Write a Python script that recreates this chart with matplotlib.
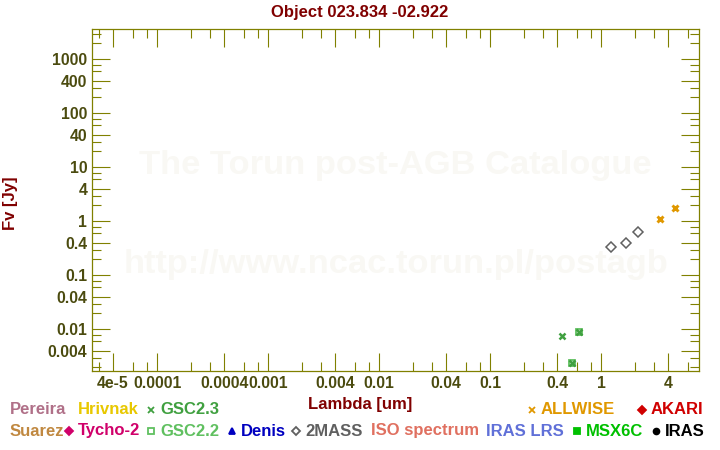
import matplotlib
matplotlib.use("Agg")
import matplotlib.pyplot as plt
from matplotlib.lines import Line2D

# photometry (wavelength in um, flux in Jy)
gsc23_wl = [0.445, 0.548, 0.634]
gsc23_flux = [0.0074, 0.00235, 0.0088]
gsc22_wl = [0.548, 0.634]
gsc22_flux = [0.00235, 0.0088]
twomass_wl = [1.235, 1.662, 2.159]
twomass_flux = [0.33, 0.39, 0.625]
allwise_wl = [3.35, 4.6]
allwise_flux = [1.09, 1.74]

x_major = [4e-5, 1e-4, 4e-4, 1e-3, 4e-3, 1e-2, 4e-2, 0.1, 0.4, 1, 4]
x_labels = ["4e-5", "0.0001", "0.0004", "0.001", "0.004", "0.01", "0.04",
            "0.1", "0.4", "1", "4"]
y_major = [0.004, 0.01, 0.04, 0.1, 0.4, 1, 4, 10, 40, 100, 400, 1000]
y_labels = ["0.004", "0.01", "0.04", "0.1", "0.4", "1", "4", "10", "40",
            "100", "400", "1000"]

# catalogue key below the plot
key_row1 = ["Pereira", "Hrivnak", "GSC2.3", "ALLWISE", "AKARI"]
key_row1_colors = ["#b07088", "#e8c800", "#40a040", "#e09800", "#d00000"]
key_row1_markers = [None, None, "x", "x", "D"]
key_row2 = ["Suarez", "Tycho-2", "GSC2.2", "Denis", "2MASS", "ISO spectrum",
            "IRAS LRS", "MSX6C", "IRAS"]
key_row2_colors = ["#c08840", "#d0006a", "#60c060", "#0000c0", "#606060",
                   "#e07060", "#6070d8", "#00c000", "#000000"]
key_row2_markers = [None, "D", "s", "^", "D", None, None, "s", "o"]

# layout of the key (pixels from left)
row1_text_x = [10, 78, 160, 541, 651]
row2_text_x = [10, 78, 160, 241, 305, 371, 486, 586, 665]
open_markers = ["GSC2.2", "2MASS"]

W, H = 720, 450
olive = "#808000"
tick_text = "#4b4b0f"
dark_red = "#800000"
font = "Liberation Sans"


def main():
    fig = plt.figure(figsize=(W / 100, H / 100), dpi=100)
    ax = fig.add_axes([92 / W, 1 - 371 / H, 607 / W, 342 / H])
    ax.set_xscale("log")
    ax.set_yscale("log")

    # watermark
    ax.text(0.5, 0.6, "The Torun post-AGB Catalogue", transform=ax.transAxes,
            ha="center", va="center", fontsize=24.8, fontweight="bold",
            color="#f9f8f4", family=font, zorder=0)
    ax.text(0.5, 0.31, "http://www.ncac.torun.pl/postagb", transform=ax.transAxes,
            ha="center", va="center", fontsize=24.8, fontweight="bold",
            color="#f9f8f4", family=font, zorder=0)

    ax.plot(gsc22_wl, gsc22_flux, "s", ms=4.8, mfc="none", mec="#60c060", mew=1.3)
    ax.plot(gsc23_wl, gsc23_flux, "x", ms=4.8, color="#40a040", mew=1.8)
    ax.plot(twomass_wl, twomass_flux, "D", ms=4.8, mfc="none", mec="#606060", mew=1.1)
    ax.plot(allwise_wl, allwise_flux, "x", ms=5, color="#e09800", mew=2.1)

    ax.set_xticks(x_major)
    ax.set_xticklabels(x_labels)
    ax.set_yticks(y_major)
    ax.set_yticklabels(y_labels)
    ax.set_xticks([m * 10.0 ** e for e in range(-5, 1) for m in (2, 3, 6, 8)],
                  minor=True)
    ax.set_yticks([m * 10.0 ** e for e in range(-3, 4) for m in (2, 3, 6, 8)],
                  minor=True)
    # limits after the ticks, set_ticks would widen them otherwise
    ax.set_xlim(10 ** -4.588, 10 ** 0.880)
    ax.set_ylim(10 ** -2.772, 10 ** 3.561)

    ax.tick_params(which="both", direction="in", top=True, right=True,
                   color=olive, width=0.8)
    ax.tick_params(which="major", length=13, pad=3.5)
    ax.tick_params(which="minor", length=6.5)
    ax.tick_params(which="minor", labelbottom=False, labelleft=False)
    for lab in ax.get_xticklabels() + ax.get_yticklabels():
        lab.set_family(font)
        lab.set_fontweight("bold")
        lab.set_fontsize(11.3)
        lab.set_color(tick_text)
    for sp in ax.spines.values():
        sp.set_color(olive)
        sp.set_linewidth(0.9)

    fig.text(0.5, 1 - 12 / H, "Object 023.834 -02.922", ha="center", va="center",
             fontsize=12, fontweight="bold", color=dark_red, family=font)
    fig.text(360 / W, 1 - 404 / H, "Lambda [um]", ha="center", va="center",
             fontsize=12, fontweight="bold", color=dark_red, family=font)
    fig.text(10 / W, 1 - 203 / H, "Fv [Jy]", ha="center", va="center",
             rotation=90, fontsize=12, fontweight="bold", color=dark_red,
             family=font)

    rows = [(key_row1, key_row1_colors, key_row1_markers, row1_text_x, 410),
            (key_row2, key_row2_colors, key_row2_markers, row2_text_x, 431)]
    for names, colors, markers, xs, y in rows:
        for name, c, m, x in zip(names, colors, markers, xs):
            fy = 1 - y / H
            fig.text(x / W, fy, name, ha="left", va="center", fontsize=12,
                     fontweight="bold", color=c, family=font)
            if m is None:
                continue
            mx = (x - 9) / W
            face = "none" if name in open_markers else c
            size = 3.8 if m == "D" else 4.2
            fig.add_artist(Line2D([mx], [fy], marker=m, ms=size, mfc=face,
                                  mec=c, mew=1.3, color=c,
                                  transform=fig.transFigure))

    fig.savefig("out.png", dpi=100)


if __name__ == "__main__":
    main()
